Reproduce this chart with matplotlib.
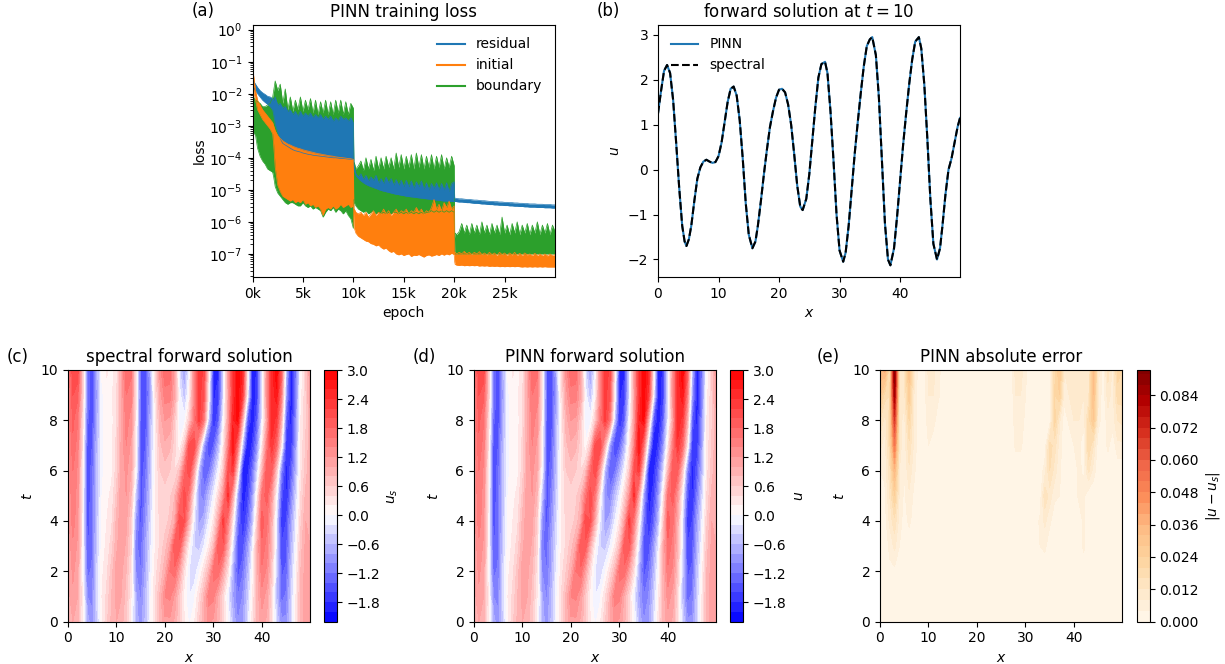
import matplotlib
matplotlib.use("Agg")
import matplotlib.pyplot as plt
import numpy as np
from matplotlib.colors import TwoSlopeNorm

W, H = 1225, 664

# loss envelopes, log10 of the loss
epochs_1 = [0, 30, 100, 300, 500, 750, 1000, 1250, 1500, 1750, 2000, 2100, 2250,
            2500, 2750, 3000, 3250, 3500, 3750, 4000, 4250, 4500, 4750, 5000, 5250,
            5500, 5750, 6000, 6250, 6500, 6750, 7000, 7250, 7500, 7750, 8000, 8250,
            8500, 8750, 9000, 9250, 9500, 9750, 10000]
residual_hi_1 = [-1.6, -1.55, -1.6, -1.7, -1.8, -1.9, -1.97, -2.02, -2.08, -2.1, -2.15, -2.2, -2.1,
                 -2.35, -2.3, -2.45, -2.4, -2.55, -2.5, -2.65, -2.55, -2.7, -2.55, -2.7, -2.6,
                 -2.7, -2.6, -2.75, -2.65, -2.75, -2.65, -2.8, -2.7, -2.8, -2.7, -2.85, -2.75,
                 -2.85, -2.7, -2.8, -2.75, -2.85, -2.75, -2.9]
residual_lo_1 = [-3.9, -2.0, -1.8, -1.9, -2.0, -2.1, -2.2, -2.27, -2.33, -2.4, -2.5, -2.65, -2.95,
                 -3.2, -3.4, -3.55, -3.6, -3.65, -3.7, -3.75, -3.78, -3.8, -3.82, -3.85, -3.87,
                 -3.89, -3.9, -3.92, -3.93, -3.94, -3.95, -3.96, -3.97, -3.98, -3.99, -4.0, -4.0,
                 -4.01, -4.02, -4.02, -4.03, -4.04, -4.04, -4.05]
initial_hi_1 = [0.0, -0.15, -1.4, -1.9, -2.2, -2.35, -2.5, -2.6, -2.7, -2.8, -2.9, -3.0, -3.15,
                -3.3, -3.4, -3.47, -3.52, -3.57, -3.6, -3.64, -3.67, -3.7, -3.72, -3.75, -3.77,
                -3.79, -3.81, -3.83, -3.85, -3.87, -3.88, -3.9, -3.91, -3.93, -3.94, -3.95, -3.97,
                -3.98, -3.99, -4.0, -4.01, -4.02, -4.03, -4.05]
initial_lo_1 = [-1.0, -1.6, -1.9, -2.2, -2.5, -2.65, -2.8, -2.9, -3.0, -3.1, -3.25, -3.6, -4.3,
                -4.85, -5.05, -5.2, -5.25, -5.3, -5.35, -5.3, -5.4, -5.35, -5.4, -5.3, -5.45,
                -5.4, -5.5, -5.45, -5.55, -5.5, -5.6, -5.8, -5.6, -5.55, -5.6, -5.5, -5.6,
                -5.55, -5.45, -5.55, -5.5, -5.45, -5.55, -5.5]
boundary_hi_1 = [-2.0, -2.1, -2.1, -2.2, -2.25, -2.3, -2.4, -2.4, -2.35, -2.3, -2.1, -1.9, -1.6,
                 -1.9, -1.7, -2.3, -1.85, -2.5, -2.1, -2.55, -2.2, -2.5, -2.1, -2.55, -2.2,
                 -2.5, -2.15, -2.6, -2.2, -2.65, -2.25, -2.6, -2.2, -2.65, -2.25, -2.65, -2.2,
                 -2.6, -2.2, -2.65, -2.25, -2.65, -2.3, -2.45]
boundary_lo_1 = [-2.5, -3.0, -3.2, -3.3, -3.7, -3.95, -4.1, -4.2, -4.35, -4.4, -4.45, -4.6, -4.9,
                 -5.1, -5.2, -5.3, -5.4, -5.45, -5.4, -5.4, -5.45, -5.5, -5.5, -5.4, -5.5,
                 -5.55, -5.5, -5.6, -5.55, -5.6, -5.65, -5.85, -5.7, -5.6, -5.65, -5.55, -5.7,
                 -5.6, -5.65, -5.75, -5.65, -5.8, -5.9, -6.2]

epochs_2 = [10050, 10100, 10250, 10500, 10750, 11000, 11250, 11500, 11750, 12000, 12250, 12500,
            12750, 13000, 13250, 13500, 13750, 14000, 14250, 14500, 14750, 15000, 15250, 15500,
            15750, 16000, 16250, 16500, 16750, 17000, 17250, 17500, 17750, 18000, 18250, 18500,
            18750, 19000, 19250, 19500, 19750, 20000]
residual_hi_2 = [-4.15, -4.3, -4.5, -4.6, -4.5, -4.68, -4.55, -4.72, -4.6, -4.7, -4.55, -4.78,
                 -4.65, -4.8, -4.6, -4.78, -4.65, -4.85, -4.68, -4.85, -4.7, -4.9, -4.7, -4.9,
                 -4.72, -4.95, -4.75, -4.9, -4.72, -4.98, -4.78, -5.0, -4.8, -4.95, -4.78, -5.0,
                 -4.8, -5.0, -4.78, -5.05, -4.8, -4.75]
residual_lo_2 = [-4.25, -4.4, -4.55, -4.65, -4.72, -4.78, -4.83, -4.87, -4.9, -4.93, -4.96, -4.99,
                 -5.02, -5.04, -5.06, -5.08, -5.1, -5.12, -5.14, -5.15, -5.17, -5.18, -5.2, -5.21,
                 -5.22, -5.23, -5.24, -5.25, -5.26, -5.27, -5.28, -5.29, -5.3, -5.31, -5.32, -5.33,
                 -5.34, -5.35, -5.35, -5.36, -5.36, -5.37]
initial_hi_2 = [-5.6, -5.6, -5.7, -5.75, -5.7, -5.8, -5.7, -5.85, -5.75, -5.65, -5.8, -5.7,
                -5.75, -5.6, -5.75, -5.65, -5.8, -5.7, -5.6, -5.75, -5.65, -5.7, -5.6, -5.75,
                -5.65, -5.7, -5.55, -5.7, -5.6, -5.75, -5.65, -5.7, -5.55, -5.3, -5.6, -5.45,
                -5.65, -5.4, -5.55, -5.35, -5.6, -5.5]
initial_lo_2 = [-6.1, -6.2, -6.35, -6.45, -6.5, -6.55, -6.6, -6.62, -6.68, -6.7, -6.75, -6.72,
                -6.8, -6.85, -6.82, -6.9, -6.95, -6.92, -7.0, -7.03, -7.0, -7.05, -7.02, -7.0,
                -7.08, -7.04, -7.05, -7.02, -7.06, -7.1, -7.05, -7.03, -7.07, -7.05, -7.02, -7.05,
                -7.0, -7.04, -7.0, -7.03, -6.98, -7.02]
boundary_hi_2 = [-4.2, -4.15, -4.35, -4.25, -4.1, -4.4, -4.0, -4.35, -4.05, -4.4, -3.95, -4.35,
                 -4.0, -4.35, -3.95, -4.3, -4.0, -4.35, -3.85, -4.3, -3.9, -4.35, -3.95, -4.3,
                 -3.9, -4.35, -3.85, -4.3, -3.9, -4.35, -3.95, -4.3, -3.9, -4.35, -3.95, -4.3,
                 -3.9, -4.35, -4.0, -4.3, -3.95, -4.25]
boundary_lo_2 = [-5.3, -5.4, -5.5, -5.6, -5.65, -5.7, -5.65, -5.75, -5.7, -5.65, -5.75, -5.7,
                 -5.75, -5.7, -5.75, -5.7, -5.75, -5.7, -5.7, -5.75, -5.7, -5.75, -5.7, -5.75,
                 -5.7, -5.75, -5.7, -5.75, -5.7, -5.75, -5.7, -5.7, -5.65, -5.7, -5.65, -5.7,
                 -5.65, -5.7, -5.65, -5.7, -5.65, -5.7]

epochs_3 = [20050, 20100, 20250, 20500, 20750, 21000, 21250, 21500, 21750, 22000, 22250, 22500,
            22750, 23000, 23250, 23500, 23750, 24000, 24250, 24500, 24750, 25000, 25250, 25500,
            25750, 26000, 26250, 26500, 26750, 27000, 27250, 27500, 27750, 28000, 28250, 28500,
            28750, 29000, 29250, 29500, 29750, 30000]
residual_hi_3 = [-5.26, -5.26, -5.27, -5.28, -5.28, -5.29, -5.3, -5.3, -5.31, -5.32, -5.32, -5.33,
                 -5.34, -5.34, -5.35, -5.36, -5.36, -5.37, -5.37, -5.38, -5.38, -5.39, -5.39, -5.4,
                 -5.4, -5.41, -5.41, -5.42, -5.42, -5.43, -5.43, -5.44, -5.44, -5.44, -5.45, -5.45,
                 -5.45, -5.46, -5.46, -5.46, -5.47, -5.47]
residual_lo_3 = [-5.36, -5.36, -5.37, -5.38, -5.38, -5.39, -5.4, -5.4, -5.41, -5.42, -5.42, -5.43,
                 -5.44, -5.44, -5.45, -5.46, -5.46, -5.47, -5.47, -5.48, -5.48, -5.49, -5.49, -5.5,
                 -5.5, -5.51, -5.51, -5.52, -5.52, -5.53, -5.53, -5.54, -5.54, -5.54, -5.55, -5.55,
                 -5.55, -5.56, -5.56, -5.56, -5.57, -5.57]
initial_hi_3 = [-7.0, -6.95, -7.0, -6.95, -7.0, -6.92, -7.0, -6.95, -7.02, -6.95, -7.0, -6.93,
                -7.02, -6.97, -7.03, -6.95, -7.02, -6.97, -7.05, -6.95, -7.02, -6.97, -7.05, -6.97,
                -7.03, -6.95, -7.05, -6.98, -7.05, -6.97, -7.03, -7.0, -7.05, -6.98, -7.05, -7.0,
                -7.05, -7.0, -7.06, -7.0, -7.05, -7.02]
initial_lo_3 = [-7.25, -7.33, -7.35, -7.36, -7.35, -7.37, -7.36, -7.37, -7.36, -7.37, -7.36, -7.38,
                -7.37, -7.38, -7.37, -7.39, -7.38, -7.39, -7.38, -7.4, -7.39, -7.4, -7.39, -7.4,
                -7.39, -7.4, -7.39, -7.4, -7.41, -7.4, -7.41, -7.4, -7.41, -7.4, -7.41, -7.4,
                -7.41, -7.4, -7.41, -7.41, -7.41, -7.41]
boundary_hi_3 = [-6.5, -6.35, -6.4, -6.3, -6.05, -6.35, -6.1, -6.4, -6.05, -6.35, -6.1, -6.4,
                 -6.0, -6.35, -6.1, -6.4, -6.05, -6.35, -6.1, -6.4, -5.85, -6.35, -6.1, -6.4,
                 -6.05, -6.35, -6.0, -6.4, -6.1, -6.35, -6.05, -6.4, -6.1, -6.35, -6.0, -6.4,
                 -6.1, -6.35, -6.05, -6.4, -6.1, -6.3]
boundary_lo_3 = [-6.95, -7.0, -7.0, -7.0, -7.0, -7.0, -7.0, -7.0, -7.0, -7.0, -7.0, -7.0,
                 -7.0, -7.0, -7.0, -7.0, -7.0, -7.0, -7.0, -7.0, -7.0, -7.0, -7.0, -7.0,
                 -7.0, -7.0, -7.0, -7.0, -7.0, -7.0, -7.0, -7.0, -7.0, -7.0, -7.0, -7.0,
                 -7.0, -7.0, -7.0, -7.0, -7.0, -7.0]

# panel (b), u at t = 10
line_x = [0, 0.5, 1, 1.5, 2, 2.5, 3, 3.5, 4, 4.4, 4.7, 5.1, 5.5, 6, 6.5, 7, 7.5, 8, 8.5, 9, 9.5,
          10, 10.5, 11, 11.5, 12, 12.5, 13, 13.5, 14, 14.5, 15, 15.6, 16.1, 16.5, 17, 17.5, 18, 18.5, 19, 19.5,
          20, 20.5, 21, 21.5, 22, 22.5, 23, 23.5, 23.9, 24.5, 25, 25.5, 26, 26.5, 27, 27.6, 28, 28.5, 29, 29.5,
          30, 30.6, 31, 31.5, 32, 32.5, 33, 33.5, 34, 34.5, 35, 35.4, 36, 36.5, 37, 37.5, 38, 38.4, 39, 39.5,
          40, 40.5, 41, 41.5, 42, 42.5, 43.1, 43.5, 44, 44.5, 45, 45.5, 46.1, 46.6, 47, 47.5, 48, 48.5, 49, 49.5, 49.9]
line_u = [1.25, 1.75, 2.2, 2.33, 2.15, 1.55, 0.6, -0.4, -1.25, -1.6, -1.7, -1.55, -1.25, -0.7, -0.2, 0.05, 0.18, 0.22, 0.18, 0.15, 0.17,
          0.3, 0.6, 1.05, 1.5, 1.8, 1.85, 1.65, 1.1, 0.25, -0.75, -1.45, -1.75, -1.6, -1.25, -0.7, -0.1, 0.45, 0.95, 1.3, 1.6,
          1.78, 1.8, 1.72, 1.45, 1.0, 0.35, -0.35, -0.82, -0.9, -0.65, -0.1, 0.65, 1.4, 2.05, 2.35, 2.4, 2.15, 1.3, 0.2, -1.0,
          -1.8, -2.05, -1.85, -1.25, -0.45, 0.35, 1.05, 1.7, 2.3, 2.75, 2.9, 2.95, 2.55, 1.6, 0.2, -1.2, -2.0, -2.13, -1.75, -1.05,
          -0.25, 0.55, 1.25, 1.9, 2.45, 2.85, 2.95, 2.7, 1.9, 0.7, -0.65, -1.65, -2.0, -1.75, -1.25, -0.55, 0.0, 0.25, 0.6, 0.95, 1.15]

# panels (c) and (d), rows t = 0..10, columns x = 0..49 and 49.9
field_t = [0, 1, 2, 3, 4, 5, 6, 7, 8, 9, 10]
field_x = [0, 1, 2, 3, 4, 5, 6, 7, 8, 9, 10, 11, 12, 13, 14, 15, 16, 17, 18, 19, 20, 21, 22, 23, 24, 25,
           26, 27, 28, 29, 30, 31, 32, 33, 34, 35, 36, 37, 38, 39, 40, 41, 42, 43, 44, 45, 46, 47, 48, 49, 49.9]
u_spectral = [
    [0.85, 1.0, 0.85, 0.15, -0.7, -0.95, -0.45, 0.15, 0.55, 0.85,
     1.0, 0.9, 0.6, 0.1, -0.7, -0.9, -0.55, -0.05, 0.4, 0.85,
     1.15, 1.15, 0.95, 0.6, 0.2, -0.05, 0.15, 0.55, 0.95, 1.25,
     1.15, 0.85, 0.45, 0.0, -0.6, -1.0, -0.85, -0.35, 0.3, 0.85,
     1.1, 0.95, 0.35, -0.4, -0.95, -0.95, -0.45, 0.2, 0.85, 1.1, 1.0],
    [0.9, 1.15, 1.0, 0.15, -1.0, -1.05, -0.3, 0.2, 0.45, 0.8,
     1.05, 1.0, 0.7, 0.2, -0.75, -1.05, -0.6, -0.05, 0.4, 0.85,
     1.4, 1.45, 1.15, 0.6, 0.1, -0.2, -0.05, 0.35, 0.85, 1.5,
     1.45, 0.95, 0.4, -0.2, -0.8, -1.2, -1.0, -0.5, 0.15, 0.85,
     1.3, 1.1, 0.4, -0.55, -1.3, -1.15, -0.45, 0.2, 0.85, 1.1, 1.0],
    [0.95, 1.25, 1.05, 0.05, -1.3, -1.15, -0.35, 0.15, 0.35, 0.7,
     1.1, 1.05, 0.8, 0.3, -1.0, -1.2, -0.75, -0.15, 0.3, 0.6,
     0.95, 1.6, 1.75, 1.05, 0.3, -0.2, -0.35, -0.05, 0.35, 0.85,
     1.7, 1.75, 1.05, 0.3, -0.7, -1.5, -1.25, -0.7, 0.0, 0.9,
     1.55, 1.35, 0.6, -0.5, -1.45, -1.35, -0.55, 0.1, 0.8, 1.1, 1.0],
    [1.0, 1.35, 1.15, 0.05, -1.45, -1.25, -0.45, 0.1, 0.25, 0.5,
     0.95, 1.15, 0.95, 0.45, -1.15, -1.3, -0.8, -0.25, 0.2, 0.45,
     0.7, 1.05, 2.0, 1.95, 0.9, 0.05, -0.4, -0.5, -0.2, 0.2,
     0.75, 1.95, 1.95, 0.9, -0.3, -1.5, -1.55, -0.95, -0.2, 0.9,
     1.75, 1.5, 0.8, -0.3, -1.6, -1.5, -0.7, -0.05, 0.7, 1.05, 1.0],
    [1.1, 1.5, 1.25, 0.05, -1.55, -1.2, -0.5, 0.05, 0.2, 0.35,
     0.85, 1.15, 1.05, 0.55, -0.9, -1.5, -0.95, -0.35, 0.2, 0.45,
     0.5, 0.65, 1.0, 2.15, 2.0, 0.9, -0.2, -0.85, -0.7, -0.2,
     0.25, 1.05, 2.3, 1.5, 0.2, -1.2, -1.85, -1.4, -0.65, 0.55,
     1.9, 1.65, 0.9, -0.3, -1.75, -1.6, -0.85, -0.2, 0.55, 1.0, 1.0],
    [1.15, 1.55, 1.3, 0.1, -1.6, -1.25, -0.5, 0.0, 0.15, 0.25,
     0.65, 1.2, 1.2, 0.8, -0.5, -1.55, -1.1, -0.45, 0.2, 0.5,
     0.5, 0.55, 0.8, 1.55, 2.15, 1.5, 0.15, -0.95, -1.1, -0.6,
     -0.15, 0.45, 1.25, 2.45, 1.0, -0.8, -1.95, -1.7, -0.95, 0.15,
     1.65, 1.9, 1.15, 0.0, -1.5, -1.9, -1.15, -0.4, 0.4, 0.85, 1.0],
    [1.2, 1.6, 1.35, 0.15, -1.6, -1.3, -0.55, -0.05, 0.12, 0.15,
     0.5, 1.05, 1.25, 1.0, 0.0, -1.55, -1.25, -0.55, 0.15, 0.6,
     0.7, 0.6, 0.4, 0.7, 1.7, 2.2, 1.05, -0.6, -1.45, -1.25,
     -0.7, -0.1, 0.6, 2.0, 2.3, 0.4, -1.85, -1.9, -1.3, -0.4,
     0.8, 2.0, 1.85, 0.65, -1.1, -1.9, -1.45, -0.65, 0.3, 0.7, 0.95],
    [1.25, 1.75, 1.5, 0.3, -1.55, -1.4, -0.6, -0.05, 0.1, 0.12,
     0.45, 1.05, 1.4, 1.15, 0.1, -1.5, -1.4, -0.6, 0.15, 0.75,
     0.95, 0.85, 0.45, 0.02, 0.6, 2.1, 2.2, 0.9, -0.8, -1.7,
     -1.4, -0.7, 0.2, 1.4, 2.8, 1.65, -0.5, -2.1, -1.75, -1.0,
     0.2, 1.5, 2.35, 1.75, 0.2, -1.75, -1.75, -0.85, 0.25, 0.6, 0.95],
    [1.3, 1.85, 1.6, 0.4, -1.35, -1.55, -0.7, -0.05, 0.12, 0.12,
     0.4, 1.0, 1.5, 1.3, 0.2, -1.45, -1.5, -0.7, 0.2, 0.9,
     1.2, 1.15, 0.6, -0.15, -0.1, 0.6, 1.5, 2.3, 1.55, -0.5,
     -1.85, -1.4, -0.1, 1.05, 2.55, 2.85, 0.9, -1.4, -2.05, -1.4,
     -0.2, 1.0, 2.55, 2.3, 0.9, -1.4, -1.95, -1.0, 0.2, 0.55, 0.95],
    [1.3, 2.0, 1.85, 0.6, -1.2, -1.65, -0.8, -0.05, 0.15, 0.15,
     0.35, 1.0, 1.6, 1.5, 0.3, -1.4, -1.6, -0.8, 0.3, 1.1,
     1.5, 1.5, 1.0, -0.1, -0.55, 0.1, 1.35, 2.3, 2.0, 0.1,
     -1.85, -1.7, -0.4, 1.0, 2.3, 2.95, 2.3, 0.0, -2.0, -1.7,
     -0.3, 1.3, 2.4, 2.75, 1.5, -0.9, -2.0, -1.15, 0.1, 0.55, 1.05],
    [1.25, 2.2, 2.15, 0.6, -1.25, -1.65, -0.7, 0.05, 0.22, 0.15,
     0.3, 1.05, 1.8, 1.65, 0.25, -1.45, -1.65, -0.7, 0.45, 1.3,
     1.78, 1.72, 1.0, -0.35, -0.9, -0.1, 1.4, 2.35, 2.15, 0.2,
     -1.8, -1.85, -0.45, 1.05, 2.3, 2.93, 2.55, 0.2, -2.0, -1.75,
     -0.25, 1.25, 2.45, 2.95, 1.9, -0.65, -2.0, -1.25, 0.0, 0.6, 1.15],
]
# PINN field is indistinguishable from the spectral one at this scale
u_pinn = u_spectral

# panel (e), |u - u_s| in thousandths
error_milli = [
    [1, 1, 1, 1, 1, 1, 1, 1, 1, 1, 1, 1, 1, 1, 1, 1, 1, 1, 1, 1, 1, 1, 1, 1, 1,
     1, 1, 1, 1, 1, 1, 1, 1, 1, 1, 1, 1, 1, 1, 1, 1, 1, 1, 1, 1, 1, 1, 1, 1, 1, 1],
    [1, 1, 1, 1, 1, 1, 1, 1, 1, 1, 1, 1, 1, 1, 1, 1, 1, 1, 1, 1, 1, 1, 1, 1, 1,
     1, 1, 1, 1, 1, 1, 1, 1, 1, 1, 1, 1, 1, 1, 1, 1, 1, 1, 1, 1, 1, 1, 1, 1, 1, 1],
    [1, 1, 3, 3, 1, 1, 1, 1, 1, 1, 1, 1, 1, 1, 1, 1, 1, 1, 1, 1, 1, 1, 1, 1, 1,
     1, 1, 1, 1, 1, 1, 1, 3, 3, 1, 1, 1, 1, 1, 1, 1, 1, 1, 1, 1, 1, 1, 1, 1, 1, 1],
    [1, 1, 5, 9, 4, 1, 1, 1, 1, 1, 1, 1, 1, 1, 1, 1, 1, 1, 1, 1, 1, 1, 1, 1, 1,
     1, 1, 1, 1, 1, 1, 1, 1, 4, 5, 1, 1, 1, 1, 1, 1, 1, 5, 1, 1, 1, 1, 1, 1, 1, 1],
    [1, 2, 9, 15, 6, 2, 5, 2, 1, 1, 1, 1, 1, 1, 1, 1, 1, 1, 1, 1, 1, 1, 1, 1, 1,
     1, 1, 1, 1, 1, 1, 1, 1, 5, 9, 5, 1, 1, 1, 1, 1, 1, 5, 1, 1, 1, 1, 1, 1, 1, 1],
    [2, 3, 12, 24, 7, 3, 7, 3, 1, 1, 1, 1, 1, 1, 1, 1, 1, 1, 1, 1, 1, 1, 1, 1, 1,
     1, 4, 1, 1, 1, 1, 1, 1, 1, 15, 10, 5, 4, 1, 1, 1, 5, 5, 1, 1, 1, 1, 1, 1, 1, 1],
    [4, 5, 14, 35, 8, 4, 11, 5, 1, 1, 1, 1, 1, 1, 1, 1, 1, 1, 1, 1, 1, 1, 1, 1, 1,
     1, 4, 1, 1, 1, 1, 1, 1, 1, 6, 16, 10, 5, 1, 1, 1, 5, 3, 13, 6, 1, 1, 1, 1, 1, 1],
    [9, 6, 18, 52, 10, 5, 15, 7, 1, 4, 4, 1, 1, 1, 1, 1, 1, 1, 1, 1, 1, 1, 1, 1, 1,
     1, 1, 1, 5, 5, 1, 1, 1, 1, 1, 18, 14, 6, 1, 1, 4, 5, 1, 20, 12, 1, 1, 5, 1, 7, 7],
    [16, 10, 18, 68, 10, 6, 20, 8, 1, 1, 6, 6, 1, 1, 3, 1, 1, 1, 1, 1, 1, 1, 1, 1, 1,
     1, 1, 1, 6, 6, 3, 1, 1, 1, 1, 1, 22, 9, 1, 5, 8, 8, 5, 18, 28, 6, 1, 6, 6, 12, 13],
    [28, 18, 16, 85, 10, 10, 26, 8, 1, 1, 8, 8, 5, 1, 4, 1, 1, 1, 1, 1, 1, 1, 1, 1, 1,
     1, 1, 1, 8, 8, 4, 1, 1, 1, 1, 1, 20, 24, 6, 8, 10, 10, 8, 10, 32, 8, 1, 10, 6, 18, 18],
    [35, 38, 15, 92, 10, 12, 30, 10, 1, 1, 9, 9, 6, 1, 4, 1, 1, 1, 1, 1, 1, 1, 4, 1, 1,
     1, 1, 1, 10, 10, 5, 1, 1, 1, 1, 1, 18, 28, 8, 9, 12, 12, 9, 8, 34, 10, 1, 14, 6, 22, 20],
]

epoch_ticks = [0, 5000, 10000, 15000, 20000, 25000]
epoch_labels = ["0k", "5k", "10k", "15k", "20k", "25k"]
u_ticks = [-1.8, -1.2, -0.6, 0.0, 0.6, 1.2, 1.8, 2.4, 3.0]
err_ticks = [0.0, 0.012, 0.024, 0.036, 0.048, 0.06, 0.072, 0.084]
u_levels = np.arange(-2.2, 3.01, 0.2)
err_levels = np.append(np.arange(0, 0.0925, 0.004), 0.0934)


def px_axes(fig, left, right, top, bottom):
    return fig.add_axes([left / W, 1 - bottom / H, (right - left) / W, (bottom - top) / H])


fig = plt.figure(figsize=(W / 100, H / 100), dpi=100)

# (a) loss
ax = px_axes(fig, 252.5, 555, 25, 277)
series = [("boundary", "C2", boundary_hi_1 + boundary_hi_2 + boundary_hi_3, boundary_lo_1 + boundary_lo_2 + boundary_lo_3),
          ("residual", "C0", residual_hi_1 + residual_hi_2 + residual_hi_3, residual_lo_1 + residual_lo_2 + residual_lo_3),
          ("initial", "C1", initial_hi_1 + initial_hi_2 + initial_hi_3, initial_lo_1 + initial_lo_2 + initial_lo_3)]
epochs = np.array(epochs_1 + epochs_2 + epochs_3)
lines = {}
for name, color, hi, lo in series:
    hi, lo = 10.0 ** np.array(hi), 10.0 ** np.array(lo)
    ax.fill_between(epochs, lo, hi, color=color, lw=0)
    lines[name], = ax.plot(epochs, hi, color=color, lw=0.5)
    ax.plot(epochs, lo, color=color, lw=0.5)
ax.set_yscale("log")
ax.set_xlim(0, 30000)
ax.set_ylim(1.9e-8, 1.4)
ax.set_yticks([10.0 ** e for e in range(-7, 1)])
ax.yaxis.set_minor_locator(matplotlib.ticker.LogLocator(base=10, subs=np.arange(2, 10) * 0.1, numticks=12))
ax.yaxis.set_minor_formatter(matplotlib.ticker.NullFormatter())
ax.set_xticks(epoch_ticks, epoch_labels)
ax.set_xlabel("epoch")
ax.set_ylabel("loss", labelpad=2)
ax.set_title("PINN training loss")
leg = ax.legend([lines["residual"], lines["initial"], lines["boundary"]], ["residual", "initial", "boundary"],
                loc="upper right", frameon=False)
for handle in leg.get_lines():
    handle.set_linewidth(1.5)

# (b) solution at t = 10
ax = px_axes(fig, 658, 960, 25, 277)
ax.plot(line_x, line_u, color="C0", lw=1.5, label="PINN")
ax.plot(line_x, line_u, color="k", lw=1.5, ls="--", label="spectral")
ax.set_xlim(0, 49.9)
ax.set_ylim(-2.39, 3.22)
ax.set_xticks([0, 10, 20, 30, 40])
ax.set_xlabel("$x$")
ax.set_ylabel("$u$")
ax.set_title("forward solution at $t=10$")
ax.legend(loc="upper left", frameon=False)

# (c, d, e) fields
u_norm = TwoSlopeNorm(vcenter=0, vmin=-2.2, vmax=3.0)
panels = [(68, 310, 324, 337, u_spectral, 1, u_levels, "bwr", u_norm, u_ticks, "$u_s$", "spectral forward solution"),
          (474, 716, 730, 743, u_pinn, 1, u_levels, "bwr", u_norm, u_ticks, "$u$", "PINN forward solution"),
          (880, 1122, 1137, 1149.5, error_milli, 0.001, err_levels, "OrRd", None, err_ticks, "$|u-u_s|$", "PINN absolute error")]
for left, right, cleft, cright, table, scale, levels, cmap, norm, ticks, clabel, title in panels:
    ax = px_axes(fig, left, right, 370, 621.5)
    cs = ax.contourf(field_x, field_t, np.array(table) * scale, levels=levels, cmap=cmap, norm=norm)
    ax.set_xticks([0, 10, 20, 30, 40])
    ax.set_yticks([0, 2, 4, 6, 8, 10])
    ax.set_xlabel("$x$")
    ax.set_ylabel("$t$")
    ax.set_title(title)
    cax = px_axes(fig, cleft, cright, 370, 621.5)
    cb = fig.colorbar(cs, cax=cax, ticks=ticks, spacing="proportional")
    cb.set_label(clabel)
    cb.ax.minorticks_off()

for label, xpx, ypx in [("(a)", 192, 16), ("(b)", 597, 16), ("(c)", 7, 362), ("(d)", 413, 362), ("(e)", 817, 362)]:
    fig.text(xpx / W, 1 - ypx / H, label, fontsize=12)

fig.savefig("out.png", dpi=100)
